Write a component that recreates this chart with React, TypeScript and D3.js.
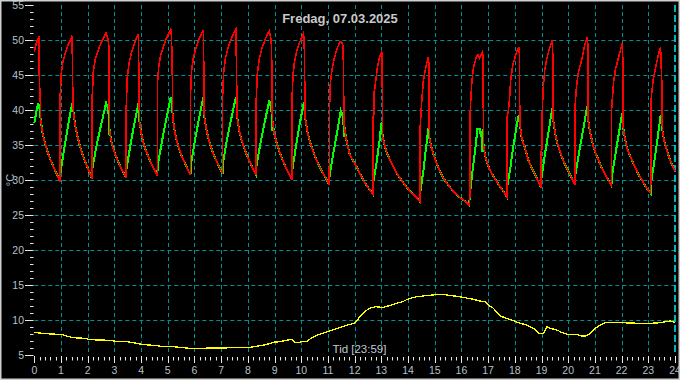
import React from "react";
import * as d3 from "d3";

type P = [number, number];

// ---- data (hours, °C) ----
const hours = d3.range(0, 25);
const yMajor = [5, 10, 15, 20, 25, 30, 35, 40, 45, 50, 55];
const yGrid = [10, 15, 20, 25, 30, 35, 40, 45, 50];

const redRises: P[][] = [
  [[0,48.3],[0.06,49.3],[0.12,50.0],[0.18,50.6],[0.19,43.3],[0.22,43.0],[0.23,39.5],[0.24,38.6]],
  [[0.975,42.6],[1.01,45.2],[1.07,46.9],[1.16,48.1],[1.27,49.3],[1.35,50.0],[1.42,50.6],[1.43,43.5],[1.45,43.0],[1.46,40.0]],
  [[2.165,41.5],[2.21,45.4],[2.28,47.2],[2.39,48.5],[2.51,49.7],[2.61,50.4],[2.69,51.0],[2.75,50.3],[2.80,49.0],[2.81,40.0],[2.82,37.1]],
  [[3.445,40.5],[3.48,44.6],[3.55,46.7],[3.64,48.2],[3.74,49.4],[3.83,50.3],[3.90,50.9],[3.92,44.0],[3.94,38.3]],
  [[4.615,44.0],[4.66,46.1],[4.73,47.8],[4.83,49.0],[4.94,50.2],[5.03,50.9],[5.11,51.5],[5.14,50.5],[5.17,45.0],[5.18,39.8],[5.2,38.5]],
  [[5.855,42.5],[5.89,45.6],[5.96,47.5],[6.05,48.8],[6.16,50.0],[6.25,50.8],[6.33,51.4],[6.35,46.0],[6.36,41.0],[6.37,39.0]],
  [[7.055,42.0],[7.09,45.2],[7.16,47.4],[7.26,48.9],[7.37,50.1],[7.46,50.9],[7.55,51.5],[7.57,47.0],[7.59,41.5],[7.6,39.0]],
  [[8.315,41.5],[8.35,45.0],[8.42,47.2],[8.52,48.7],[8.63,49.9],[8.72,50.7],[8.80,51.3],[8.85,50.5],[8.89,49.0],[8.90,43.0],[8.92,38.5]],
  [[9.655,41.5],[9.69,45.0],[9.75,47.0],[9.83,48.4],[9.93,49.6],[10.01,50.3],[10.08,50.9],[10.11,50.0],[10.13,44.0],[10.15,38.8]],
  [[11.055,40.0],[11.09,43.8],[11.15,45.8],[11.23,47.3],[11.32,48.5],[11.40,49.3],[11.46,49.8],[11.52,49.6],[11.57,49.0],[11.59,42.0],[11.61,37.8]],
  [[12.685,39.0],[12.72,39.3],[12.73,42.5],[12.78,43.8],[12.85,46.0],[12.93,47.5],[13.01,48.3],[13.03,47.8],[13.04,40.0],[13.05,36.2]],
  [[14.455,37.6],[14.51,41.0],[14.57,44.1],[14.67,46.2],[14.72,47.0],[14.76,47.5],[14.78,46.5],[14.79,40.0],[14.80,36.0]],
  [[16.31,26.4],[16.315,38.5],[16.35,41.5],[16.39,44.0],[16.45,46.0],[16.55,47.5],[16.62,47.9],[16.68,47.4],[16.74,47.9],[16.79,48.3],[16.81,47.5],[16.82,40.0],[16.83,35.0]],
  [[17.705,38.8],[17.76,40.0],[17.8,41.5],[17.85,44.5],[17.92,46.3],[18.0,47.4],[18.08,48.4],[18.15,49.0],[18.17,48.0],[18.18,42.0],[18.19,38.0]],
  [[18.985,34.0],[19.02,34.5],[19.03,40.0],[19.06,42.9],[19.12,45.7],[19.18,47.0],[19.25,48.1],[19.33,49.2],[19.4,50.0],[19.42,48.0],[19.43,41.0],[19.44,38.5]],
  [[20.255,40.5],[20.31,43.3],[20.37,45.2],[20.5,47.1],[20.62,49.3],[20.71,50.4],[20.73,49.5],[20.74,42.0],[20.75,38.5]],
  [[21.625,40.0],[21.66,42.0],[21.7,44.0],[21.77,45.8],[21.85,47.0],[21.94,48.3],[22.02,49.5],[22.04,48.5],[22.05,41.0],[22.06,37.5]],
  [[23.095,41.0],[23.13,42.5],[23.19,44.5],[23.32,46.9],[23.4,48.2],[23.46,49.0],[23.48,46.0],[23.5,45.5],[23.51,40.0],[23.53,37.0]],
];

const greenRises: P[][] = [
  [[0,38.1],[0.08,39.8],[0.15,41.0],[0.18,40.6],[0.24,38.6]],
  [[0.98,31.0],[1.12,34.5],[1.27,37.9],[1.42,41.0],[1.44,40.2],[1.46,40.0]],
  [[2.17,31.5],[2.33,34.9],[2.51,38.0],[2.69,41.0],[2.75,40.4],[2.79,39.2],[2.80,36.5],[2.81,38.0],[2.82,37.1]],
  [[3.45,31.5],[3.6,35.0],[3.76,38.3],[3.91,41.1],[3.94,38.3]],
  [[4.62,32.0],[4.78,35.5],[4.95,38.8],[5.11,41.8],[5.14,41.0],[5.18,39.5],[5.2,38.5]],
  [[5.86,32.0],[6.01,35.5],[6.17,38.8],[6.33,41.8],[6.35,40.5],[6.37,39.0]],
  [[7.06,32.2],[7.21,35.6],[7.38,38.8],[7.55,41.8],[7.58,40.8],[7.6,39.0]],
  [[8.32,32.0],[8.47,35.2],[8.64,38.4],[8.80,41.4],[8.85,40.6],[8.89,39.6],[8.90,37.0],[8.91,38.8],[8.92,38.5]],
  [[9.66,31.3],[9.8,34.8],[9.95,38.2],[10.1,41.1],[10.13,40.2],[10.15,38.8]],
  [[11.06,30.6],[11.2,33.8],[11.35,37.0],[11.48,39.9],[11.54,39.3],[11.58,38.4],[11.59,36.2],[11.60,38.2],[11.61,37.8]],
  [[12.69,29.5],[12.82,32.5],[12.93,35.5],[12.98,37.5],[13.01,38.3],[13.03,37.5],[13.05,36.2]],
  [[14.46,28.3],[14.58,31.5],[14.68,34.8],[14.76,37.4],[14.79,36.5],[14.80,36.0]],
  [[16.32,28.0],[16.42,31.5],[16.52,34.5],[16.6,37.3],[16.68,37.3],[16.72,36.5],[16.76,36.8],[16.79,34.0],[16.8,36.2],[16.82,35.5],[16.83,35.0]],
  [[17.71,29.0],[17.82,31.4],[17.95,35.0],[18.08,38.0],[18.15,39.3],[18.17,38.5],[18.19,38.0]],
  [[18.99,30.0],[19.12,33.5],[19.27,37.0],[19.4,40.2],[19.42,39.5],[19.44,38.5]],
  [[20.26,30.5],[20.4,33.8],[20.56,37.2],[20.71,40.5],[20.73,39.8],[20.75,38.5]],
  [[21.63,30.3],[21.76,33.5],[21.89,36.5],[22.02,39.5],[22.04,38.8],[22.06,37.5]],
  [[23.1,29.5],[23.22,32.5],[23.35,36.0],[23.46,39.2],[23.49,38.5],[23.53,37.0]],
];

const decays: P[][] = [
  [[0.31,36.7],[0.39,35.4],[0.50,34.0],[0.605,32.9],[0.75,31.6],[0.86,30.7],[0.97,29.8]],
  [[1.53,37.8],[1.60,36.5],[1.705,34.9],[1.81,33.6],[1.95,32.2],[2.055,31.2],[2.16,30.2]],
  [[2.88,35.6],[2.94,34.7],[3.04,33.6],[3.13,32.7],[3.25,31.7],[3.35,31.0],[3.44,30.3]],
  [[4.01,36.6],[4.07,35.5],[4.17,34.3],[4.275,33.3],[4.41,32.1],[4.51,31.4],[4.61,30.6]],
  [[5.265,36.8],[5.33,35.7],[5.43,34.4],[5.525,33.4],[5.655,32.3],[5.75,31.5],[5.85,30.7]],
  [[6.45,37.2],[6.51,36.1],[6.61,34.8],[6.71,33.7],[6.85,32.5],[6.95,31.7],[7.05,30.9]],
  [[7.67,37.2],[7.74,36.0],[7.85,34.7],[7.955,33.6],[8.10,32.4],[8.2,31.5],[8.31,30.7]],
  [[8.99,36.6],[9.07,35.4],[9.18,34.1],[9.285,33.0],[9.43,31.7],[9.54,30.9],[9.65,30.0]],
  [[10.24,36.7],[10.33,35.4],[10.465,33.9],[10.6,32.6],[10.78,31.2],[10.915,30.3],[11.05,29.3]],
  [[11.68,35.9],[11.75,34.7],[11.82,33.6],[11.95,32.7],[12.07,31.9],[12.2,30.9],[12.32,30.0],[12.45,29.2],[12.57,28.6],[12.68,28.0]],
  [[13.12,35.0],[13.2,33.9],[13.32,32.9],[13.45,31.9],[13.57,31.0],[13.82,29.6],[14.07,28.4],[14.32,27.5],[14.45,26.9]],
  [[14.86,34.9],[14.94,33.8],[15.07,32.4],[15.2,31.2],[15.32,30.3],[15.44,29.6],[15.69,28.4],[15.94,27.5],[16.19,26.8],[16.29,26.4]],
  [[16.88,33.6],[16.95,32.6],[17.07,31.4],[17.2,30.5],[17.32,29.8],[17.45,29.0],[17.57,28.4],[17.7,27.6]],
  [[18.25,36.2],[18.31,35.3],[18.38,34.6],[18.5,32.9],[18.6,32.0],[18.69,31.3],[18.79,30.5],[18.88,29.8],[18.98,28.9]],
  [[19.5,37.0],[19.57,35.5],[19.69,34.1],[19.78,33.1],[19.88,32.2],[19.97,31.5],[20.07,30.8],[20.16,30.0],[20.25,29.3]],
  [[20.82,36.8],[20.88,35.8],[20.94,34.8],[21.03,33.8],[21.13,32.9],[21.22,32.0],[21.32,31.3],[21.41,30.6],[21.5,30.0],[21.62,29.2]],
  [[22.12,36.0],[22.2,34.6],[22.29,33.7],[22.38,32.9],[22.47,32.1],[22.57,31.3],[22.66,30.6],[22.76,30.0],[22.85,29.4],[22.94,28.8],[23.09,28.1]],
  [[23.6,35.5],[23.69,34.3],[23.81,32.9],[23.9,32.1],[24.0,31.3]],
];

const yellowPoints: P[] = [
  [0,8.24],[0.28,8.1],[0.6,8.0],[1.0,7.95],[1.21,7.7],[1.46,7.47],[1.8,7.4],[1.96,7.38],[2.0,7.2],[2.46,7.14],
  [2.83,7.1],[3.02,6.97],[3.46,6.9],[3.83,6.67],[4.02,6.52],[4.58,6.33],[4.83,6.19],[5.21,6.19],[5.58,6.05],[5.96,5.9],
  [6.2,5.95],[6.6,6.0],[7.0,6.0],[7.5,6.05],[8.1,6.1],[8.4,6.3],[8.65,6.45],[9.0,6.85],[9.2,6.9],[9.45,7.1],
  [9.64,7.24],[9.75,6.8],[9.9,6.76],[10.0,6.9],[10.2,6.9],[10.36,7.38],[10.6,7.86],[10.98,8.33],[11.36,8.81],[11.73,9.29],
  [11.98,9.52],[12.1,10.0],[12.3,10.95],[12.55,11.67],[12.8,11.9],[13.05,11.8],[13.25,12.0],[13.56,12.38],[13.8,12.62],[14.0,13.0],
  [14.3,13.3],[14.7,13.5],[15.0,13.6],[15.4,13.6],[15.8,13.4],[16.1,13.2],[16.4,13.0],[16.69,12.71],[16.88,12.6],[17.0,12.14],
  [17.2,11.67],[17.45,10.57],[17.7,10.24],[17.95,9.9],[18.2,9.52],[18.45,9.29],[18.7,8.81],[18.9,8.1],[19.08,8.1],[19.2,9.05],
  [19.33,8.81],[19.58,8.57],[19.77,8.2],[19.96,7.95],[20.33,7.95],[20.52,7.7],[20.65,7.7],[20.83,8.1],[21.02,8.81],[21.2,9.29],
  [21.39,9.62],[21.58,9.67],[21.96,9.62],[22.7,9.52],[23.08,9.52],[23.45,9.62],[23.83,9.86],[24.0,9.62],
];

const title = "Fredag, 07.03.2025";
const xTitle = "Tid [23:59]";
const yTitle = "°C";

const W = 680;
const H = 380;

export default function App() {
  const x = d3.scaleLinear().domain([0, 24]).range([34.3, 675]);
  const y = d3.scaleLinear().domain([5, 55]).range([355, 5]);
  const line = d3.line<P>().x((d) => x(d[0])).y((d) => y(d[1])).curve(d3.curveLinear);

  const red: P[] = [];
  const green: P[] = [];
  redRises.forEach((r, i) => { red.push(...r, ...decays[i]); });
  greenRises.forEach((g, i) => { green.push(...g, ...decays[i]); });

  const xMinor = d3.range(0, 24.001, 0.2).filter((v) => Math.abs(v - Math.round(v)) > 0.01);
  const yMinor = d3.range(5, 55.001, 1).filter((v) => v % 5 !== 0);

  const font = "'Liberation Sans', Arial, sans-serif";
  const labelColor = "#b4c0cc";
  const tickColor = "#e8e8e8";
  const [y0, y1] = y.range();
  const px = (v: number) => Math.round(v) + 0.5;

  return (
    <svg width={W} height={H} style={{ position: "absolute", left: 0, top: 0, display: "block" }}>
      <rect x={0} y={0} width={W} height={H} fill="#000" />
      <rect x={0.75} y={0.75} width={W - 1.5} height={H - 1.5} fill="none" stroke="#d0d0d0" strokeWidth={1.5} />

      {/* horizontal grid */}
      {yGrid.map((v) => (
        <line key={"hg" + v} x1={x(0)} x2={x(24)} y1={px(y(v))} y2={px(y(v))} stroke="#009090" strokeDasharray="4,3" strokeWidth={1} />
      ))}
      {/* vertical grid */}
      {hours.filter((h) => h > 0 && h < 24).map((h) => (
        <line key={"vg" + h} x1={px(x(h))} x2={px(x(h))} y1={y1} y2={y0} stroke="#009090" strokeDasharray="4,3" strokeWidth={1} />
      ))}
      <line x1={x(24)} x2={x(24)} y1={y1} y2={y0} stroke="#00e0e0" strokeDasharray="7,3" strokeWidth={1.6} />

      {/* y axis ticks */}
      {yMajor.map((v) => (
        <g key={"ym" + v}>
          <line x1={25} x2={33.5} y1={px(y(v))} y2={px(y(v))} stroke={tickColor} strokeWidth={1} />
          <text x={24} y={y(v)} dy="0.35em" textAnchor="end" fill={labelColor} fontSize={10.5} fontFamily={font}>{v}</text>
        </g>
      ))}
      {yMinor.map((v) => (
        <line key={"yn" + v} x1={30} x2={33.5} y1={px(y(v))} y2={px(y(v))} stroke={tickColor} strokeWidth={1} />
      ))}

      {/* x axis ticks */}
      {hours.map((h) => (
        <g key={"xm" + h}>
          <line x1={px(x(h))} x2={px(x(h))} y1={356} y2={363} stroke={tickColor} strokeWidth={1} />
          <text x={x(h)} y={374} textAnchor="middle" fill={labelColor} fontSize={10.5} fontFamily={font}>{h}</text>
        </g>
      ))}
      {xMinor.map((h, i) => (
        <line key={"xn" + i} x1={px(x(h))} x2={px(x(h))} y1={357} y2={360.5} stroke={tickColor} strokeWidth={1} />
      ))}

      {/* series */}
      <path d={line(yellowPoints) || ""} fill="none" stroke="#ffff00" strokeWidth={1.3} shapeRendering="crispEdges" />
      <path d={line(green) || ""} fill="none" stroke="#00ff00" strokeWidth={2} shapeRendering="crispEdges" />
      <path d={line(red) || ""} fill="none" stroke="#ff0000" strokeWidth={1.6} shapeRendering="crispEdges" />

      {/* titles */}
      <text x={340} y={23} textAnchor="middle" fill="#c8c8c8" fontSize={13} fontWeight="bold" fontFamily={font}>{title}</text>
      <text x={359.5} y={353} textAnchor="middle" fill="#c0c8d4" fontSize={11.5} fontFamily={font}>{xTitle}</text>
      <text transform="translate(14,180) rotate(-90)" textAnchor="middle" fill={labelColor} fontSize={11} fontFamily={font}>{yTitle}</text>
    </svg>
  );
}
